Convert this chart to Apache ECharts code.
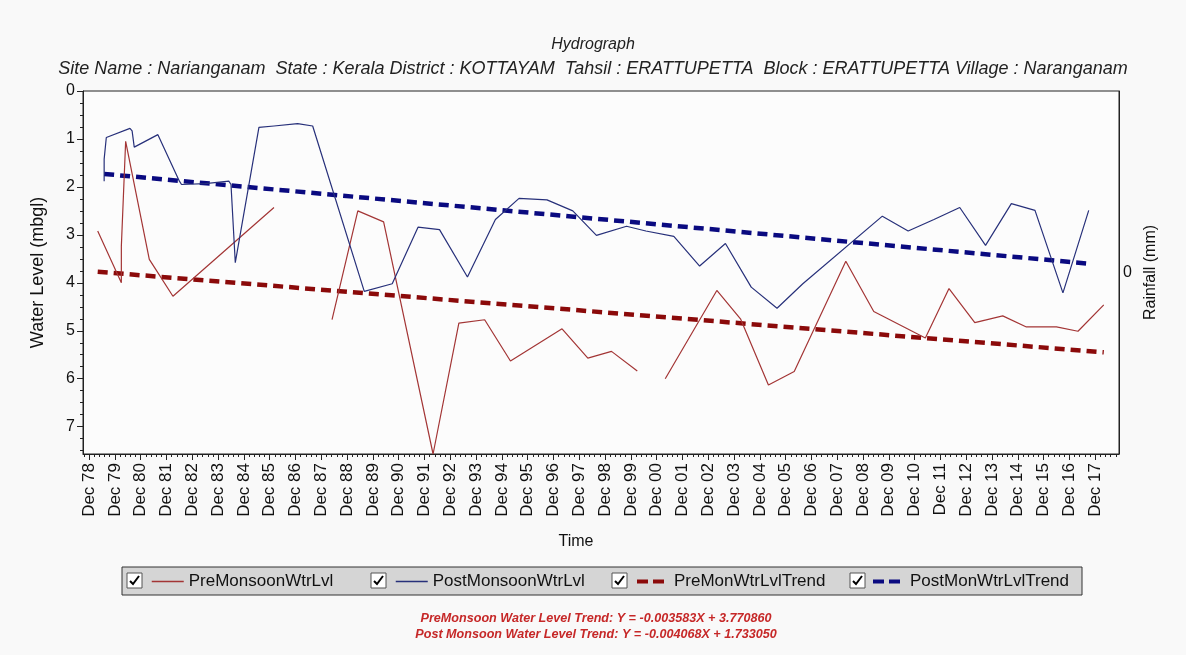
<!DOCTYPE html>
<html>
<head>
<meta charset="utf-8">
<script src="https://cdn.jsdelivr.net/npm/echarts@6/dist/echarts.min.js"></script>
<style>
  html, body { margin: 0; padding: 0; background: #f9f9f9; }
  #chart { width: 1186px; height: 655px; }
</style>
</head>
<body>
<div id="chart"></div>
<script>
// Pre-monsoon water level, metres below ground level; null marks a break in the record
const preDates = ['1979-04', '1980-03', '1980-03', '1980-05', '1981-04', '1981-07', '1982-03', '1986-02', '1987-01',
  '1988-05', '1989-05', '1990-05', '1992-04', '1993-04', '1994-04', '1995-04', '1997-04', '1998-04', '1999-03', '2000-03', '2000-09',
  '2001-04', '2003-04', '2004-03', '2005-04', '2006-04', '2008-04', '2009-05', '2011-05', '2012-04', '2013-04', '2014-05',
  '2015-04', '2016-06', '2017-04', '2018-04'];
const preLevels = [2.92, 4.00, 3.24, 1.05, 3.51, 3.72, 4.28, 2.43, null,
  4.77, 2.50, 2.73, 7.57, 4.84, 4.77, 5.63, 4.96, 5.57, 5.43, 5.84, null,
  6.00, 4.16, 4.75, 6.13, 5.85, 3.55, 4.60, 5.15, 4.12, 4.83, 4.69,
  4.92, 4.92, 5.01, 4.46];

// Post-monsoon water level, metres below ground level
const postDates = ['1979-07', '1979-07', '1979-08', '1980-07', '1980-08', '1980-09', '1981-08', '1982-06', '1982-07',
  '1983-06', '1984-05', '1984-06', '1984-08', '1985-07', '1986-02', '1987-01', '1987-08', '1989-08', '1990-09',
  '1991-09', '1992-07', '1993-08', '1994-09', '1995-08', '1996-09', '1997-09', '1998-08', '1999-10', '2000-07',
  '2001-08', '2002-08', '2003-08', '2004-08', '2005-08', '2006-08', '2009-09', '2010-09', '2011-09', '2012-09',
  '2013-09', '2014-09', '2015-08', '2016-09', '2017-09'];
const postLevels = [1.88, 1.42, 0.97, 0.78, 0.83, 1.17, 0.91, 1.88, 1.95,
  1.93, 1.88, 1.95, 3.58, 0.76, 0.73, 0.68, 0.73, 4.18, 4.02,
  2.84, 2.89, 3.88, 2.68, 2.24, 2.27, 2.50, 3.01, 2.82, 2.92,
  3.03, 3.65, 3.18, 4.09, 4.53, 4.02, 2.61, 2.92, 2.68, 2.43,
  3.22, 2.35, 2.49, 4.21, 2.49];

// Linear trend lines (end points)
const preTrendDates = ['1979-04', '2018-04'];
const preTrendLevels = [3.77, 5.45];
const postTrendDates = ['1979-07', '2017-09'];
const postTrendLevels = [1.73, 3.60];

// Axis labels
const tickLabels = ['Dec 78', 'Dec 79', 'Dec 80', 'Dec 81', 'Dec 82', 'Dec 83', 'Dec 84', 'Dec 85', 'Dec 86', 'Dec 87',
  'Dec 88', 'Dec 89', 'Dec 90', 'Dec 91', 'Dec 92', 'Dec 93', 'Dec 94', 'Dec 95', 'Dec 96', 'Dec 97',
  'Dec 98', 'Dec 99', 'Dec 00', 'Dec 01', 'Dec 02', 'Dec 03', 'Dec 04', 'Dec 05', 'Dec 06', 'Dec 07',
  'Dec 08', 'Dec 09', 'Dec 10', 'Dec 11', 'Dec 12', 'Dec 13', 'Dec 14', 'Dec 15', 'Dec 16', 'Dec 17'];
const levelTicks = [0, 1, 2, 3, 4, 5, 6, 7];
const seriesNames = ['PreMonsoonWtrLvl', 'PostMonsoonWtrLvl', 'PreMonWtrLvlTrend', 'PostMonWtrLvlTrend'];
const trendNotes = [
  'PreMonsoon Water Level Trend: Y = -0.003583X + 3.770860',
  'Post Monsoon Water Level Trend: Y = -0.004068X + 1.733050'
];

const FONT = '"Liberation Sans", Arial, sans-serif';
const X_MIN = 1978.68, X_MAX = 2018.84;
const Y_MAX = 7.57;
const GRID = { left: 83, right: 67, top: 91, bottom: 201 };
const PLOT_H = 655 - GRID.top - GRID.bottom;

// 'YYYY-MM' -> decimal year
function toYear(s) {
  const p = s.split('-').map(Number);
  return p[0] + (p[1] - 1) / 12;
}
function pairs(dates, values) {
  return dates.map((d, i) => [toYear(d), values[i] == null ? '-' : values[i]]);
}

const firstTick = 1978 + 11 / 12;
const decTicks = tickLabels.map((_, i) => firstTick + i);
const minorXTicks = [];
for (let k = -2; firstTick + k * 0.2 <= X_MAX; k++) {
  const v = firstTick + k * 0.2;
  if (v >= X_MIN) minorXTicks.push(v);
}
const minorYTicks = [];
for (let v = 0; v <= Y_MAX + 1e-9; v += 0.25) minorYTicks.push(v);

const chart = echarts.init(document.getElementById('chart'), null, { renderer: 'canvas' });

// legend frame and check boxes
const legendLefts = [151, 395, 635, 871];
const boxLefts = [127, 371, 612, 850];
const graphics = [
  { type: 'rect', z: 1, shape: { x: 122, y: 567, width: 960, height: 28 },
    style: { fill: '#d5d5d5', stroke: '#333', lineWidth: 1 } }
];
boxLefts.forEach(x => {
  graphics.push({ type: 'rect', z: 2, shape: { x: x, y: 573, width: 15, height: 15 },
    style: { fill: '#fff', stroke: '#555', lineWidth: 1 } });
  graphics.push({ type: 'polyline', z: 3, shape: { points: [[x + 3, 581], [x + 6, 584], [x + 12, 576]] },
    style: { stroke: '#000', lineWidth: 2, fill: null } });
});
trendNotes.forEach((t, i) => {
  graphics.push({ type: 'text', z: 2, x: 596, y: 612 + i * 16,
    style: { text: t, fill: '#c62828', font: 'italic bold 12.6px ' + FONT, textAlign: 'center' } });
});

const option = {
  animation: false,
  backgroundColor: '#f9f9f9',
  title: {
    text: 'Hydrograph',
    subtext: 'Site Name : Narianganam  State : Kerala District : KOTTAYAM  Tahsil : ERATTUPETTA  Block : ERATTUPETTA Village : Naranganam',
    left: 'center', top: 37, itemGap: 7, padding: 0,
    textStyle: { fontFamily: FONT, fontSize: 16, fontStyle: 'italic', fontWeight: 'normal', color: '#222' },
    subtextStyle: { fontFamily: FONT, fontSize: 18, fontStyle: 'italic', color: '#222' }
  },
  grid: {
    left: GRID.left, right: GRID.right, top: GRID.top, bottom: GRID.bottom,
    show: true, backgroundColor: '#fcfcfc', borderColor: '#222', borderWidth: 1,
    containLabel: false, outerBoundsMode: 'none'
  },
  legend: seriesNames.map((n, i) => ({
    data: [n], left: legendLefts[i], top: 573, padding: 0, z: 10,
    itemWidth: 32, itemHeight: 14, itemGap: 0, selectedMode: false,
    itemStyle: { opacity: 0 },
    lineStyle: i >= 2 ? { width: 4, type: [11, 5] } : { width: 1.5 },
    textStyle: { fontFamily: FONT, fontSize: 17, color: '#111' }
  })),
  xAxis: [{
    type: 'value', min: X_MIN, max: X_MAX, position: 'bottom',
    axisLine: { show: true, onZero: false, lineStyle: { color: '#222', width: 1 } },
    axisTick: { show: true, customValues: decTicks, length: 6, lineStyle: { color: '#222' } },
    axisLabel: {
      customValues: decTicks, rotate: 90, margin: 9,
      fontFamily: FONT, fontSize: 17, color: '#111',
      formatter: v => tickLabels[Math.round(v - firstTick)]
    },
    splitLine: { show: false },
    name: 'Time', nameLocation: 'middle', nameGap: 80,
    nameTextStyle: { fontFamily: FONT, fontSize: 16, color: '#111', padding: [0, 50, 0, 0] }
  }, {
    // short ticks between the yearly ones, laid on the bottom edge
    type: 'value', min: X_MIN, max: X_MAX, position: 'top', offset: -PLOT_H,
    axisLine: { show: false, onZero: false },
    axisTick: { show: true, inside: true, customValues: minorXTicks, length: 3, lineStyle: { color: '#222' } },
    axisLabel: { show: false },
    splitLine: { show: false }
  }],
  yAxis: [{
    type: 'value', inverse: true, min: 0, max: Y_MAX, position: 'left',
    axisLine: { show: true, onZero: false, lineStyle: { color: '#222', width: 1 } },
    axisTick: { show: true, customValues: levelTicks, length: 6, lineStyle: { color: '#222' } },
    axisLabel: { customValues: levelTicks, margin: 8, fontFamily: FONT, fontSize: 16, color: '#111' },
    splitLine: { show: false },
    name: 'Water Level (mbgl)', nameLocation: 'middle', nameRotate: 90, nameGap: 36,
    nameTextStyle: { fontFamily: FONT, fontSize: 18, color: '#111' }
  }, {
    type: 'value', inverse: true, min: 0, max: Y_MAX, position: 'left',
    axisLine: { show: false, onZero: false },
    axisTick: { show: true, customValues: minorYTicks, length: 3, lineStyle: { color: '#222' } },
    axisLabel: { show: false },
    splitLine: { show: false }
  }, {
    type: 'value', min: -1, max: 1, position: 'right',
    axisLine: { show: true, onZero: false, lineStyle: { color: '#222', width: 1 } },
    axisTick: { show: false },
    axisLabel: { customValues: [0], margin: 4, fontFamily: FONT, fontSize: 16, color: '#111' },
    splitLine: { show: false },
    name: 'Rainfall (mm)', nameLocation: 'middle', nameRotate: 90, nameGap: 20,
    nameTextStyle: { fontFamily: FONT, fontSize: 16, color: '#111' }
  }],
  series: [{
    name: seriesNames[0], type: 'line', xAxisIndex: 0, yAxisIndex: 0,
    data: pairs(preDates, preLevels), symbol: 'none', connectNulls: false,
    lineStyle: { color: '#a33535', width: 1.2 }, itemStyle: { color: '#a33535' }, z: 3
  }, {
    name: seriesNames[1], type: 'line', xAxisIndex: 0, yAxisIndex: 0,
    data: pairs(postDates, postLevels), symbol: 'none',
    lineStyle: { color: '#27307a', width: 1.2 }, itemStyle: { color: '#27307a' }, z: 3
  }, {
    name: seriesNames[2], type: 'line', xAxisIndex: 0, yAxisIndex: 0,
    data: pairs(preTrendDates, preTrendLevels), symbol: 'none',
    lineStyle: { color: '#8b0a0a', width: 4.5, type: [10, 6] }, itemStyle: { color: '#8b0a0a' }, z: 2
  }, {
    name: seriesNames[3], type: 'line', xAxisIndex: 0, yAxisIndex: 0,
    data: pairs(postTrendDates, postTrendLevels), symbol: 'none',
    lineStyle: { color: '#0a0a80', width: 4.5, type: [10, 6] }, itemStyle: { color: '#0a0a80' }, z: 2
  }],
  graphic: graphics
};

chart.setOption(option);
</script>
</body>
</html>
